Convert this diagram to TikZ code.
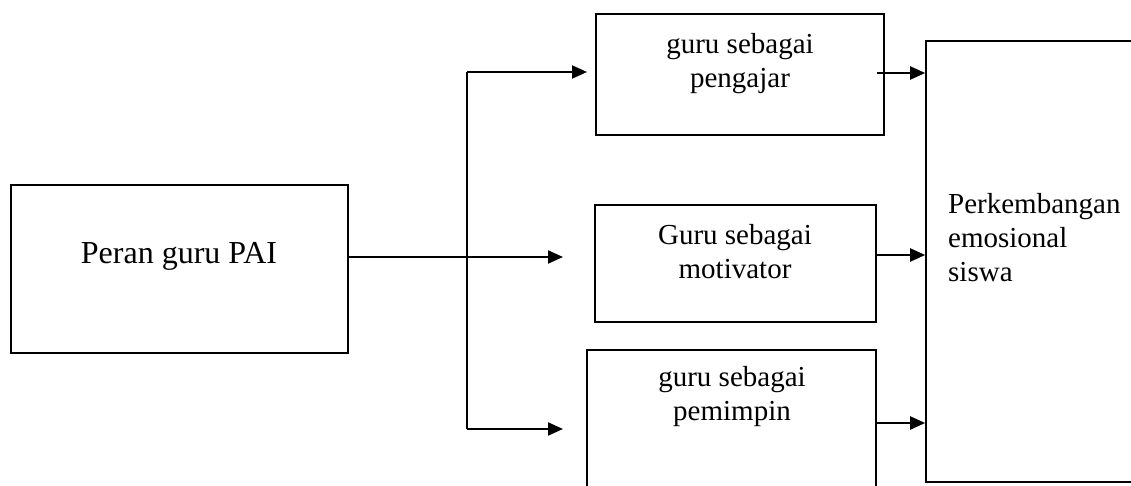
\documentclass[tikz,border=0pt]{standalone}
\usepackage{fontspec}
\setmainfont{Liberation Serif}
\usetikzlibrary{arrows.meta}

\begin{document}
\begin{tikzpicture}[x=1pt,y=-1pt]
    \tikzset{box/.style = {shape=rectangle, draw, line width=1.6pt, inner sep=0pt}}
    \tikzset{label/.style = {inner sep=0pt, align=center, font=\fontsize{29}{34}\selectfont}}
    \tikzset{edge/.style = {draw, line width=2pt, -{Triangle[length=15pt,width=13pt]}}}

    \clip (0,0) rectangle (1131,485);

    % vertices
    \node[box, minimum width=337pt, minimum height=168pt] (peran) at (179.5,269) {};
    \node[box, minimum width=288pt, minimum height=121pt] (pengajar) at (740,74.5) {};
    \node[box, minimum width=281pt, minimum height=117pt] (motivator) at (735.5,263.5) {};
    \node[box, minimum width=289pt, minimum height=160pt] (pemimpin) at (731.5,430) {};
    \node[box, minimum width=234pt, minimum height=441pt] (emosi) at (1043,261.5) {};

    % texts
    \node[label, anchor=base, font=\fontsize{32}{38}\selectfont] (tperan) at (179,263) {Peran guru PAI};
    \node[label, anchor=base] (tpengajar) at (740,87) {guru sebagai\\pengajar};
    \node[label, anchor=base] (tmotivator) at (735,278) {Guru sebagai\\motivator};
    \node[label, anchor=base] (tpemimpin) at (732,420) {guru sebagai\\pemimpin};
    \node[label, anchor=base west, align=left] (temosi) at (948,281) {Perkembangan\\emosional\\siswa};

    % branch points
    \coordinate (split) at (467,257);
    \coordinate (top) at (467,72);
    \coordinate (bottom) at (467,429);
    \coordinate (inA) at (587,72);
    \coordinate (inB) at (563,257);
    \coordinate (inC) at (563,429);
    \coordinate (outA) at (877,73);
    \coordinate (outB) at (875,255);
    \coordinate (outC) at (875,423);

    % edges
    \draw[line width=2pt] (top) -- (bottom);
    \draw[edge] (peran.east |- split) -- (inB);
    \draw[edge] (top) -- (inA);
    \draw[edge] (bottom) -- (inC);
    \draw[edge] (outA) -- (emosi.west |- outA);
    \draw[edge] (outB) -- (emosi.west |- outB);
    \draw[edge] (outC) -- (emosi.west |- outC);
\end{tikzpicture}
\end{document}
